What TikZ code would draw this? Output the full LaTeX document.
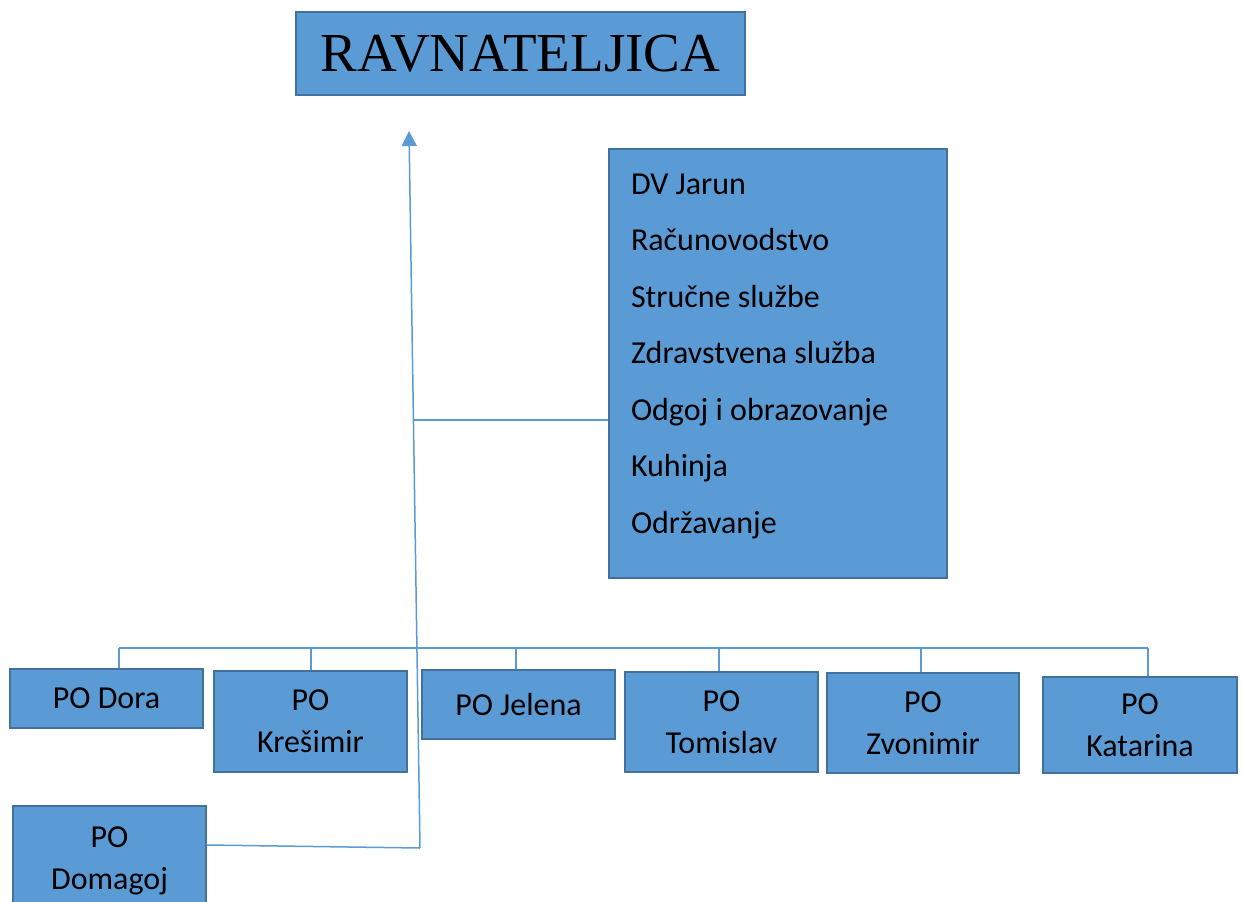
\documentclass[tikz,border=0pt]{standalone}
\usepackage{fontspec}
\setmainfont{Carlito}
\newfontfamily\titlefont{Liberation Serif}
\usetikzlibrary{arrows.meta,positioning}
\definecolor{boxblue}{HTML}{5B9BD5}
\definecolor{boxedge}{HTML}{41719C}

\begin{document}
\begin{tikzpicture}[x=1pt,y=-1pt,
  box/.style={rectangle,draw=boxedge,fill=boxblue,line width=2pt,inner sep=0pt,align=center,font=\fontsize{32}{42}\selectfont},
  link/.style={draw=boxblue,line width=1.5pt}]
\useasboundingbox (0,0) rectangle (1243,902);
\node (head) at (520.5,53.5) [box,minimum width=449pt,minimum height=83pt,font=\titlefont\fontsize{55}{60}\selectfont] {RAVNATELJICA};
\node (jarun) at (608,148) [box,anchor=north west,minimum width=338pt,minimum height=429pt,text width=294pt,align=flush left,font=\fontsize{32}{56.5}\selectfont]
  {DV Jarun\\Računovodstvo\\Stručne službe\\Zdravstvena služba\\Odgoj i obrazovanje\\Kuhinja\\Održavanje\rule[-20pt]{0pt}{1pt}};
\node (dora) at (106.5,698.5) [box,minimum width=193pt,minimum height=59pt] {PO Dora};
\node (kresimir) at (310.5,721.5) [box,minimum width=193pt,minimum height=101pt] {PO\\Krešimir};
\node (jelena) at (518.5,704.5) [box,minimum width=193pt,minimum height=69pt] {PO Jelena};
\node (tomislav) at (721.5,722) [box,minimum width=193pt,minimum height=100pt] {PO\\Tomislav};
\node (zvonimir) at (923,723) [box,minimum width=192pt,minimum height=100pt] {PO\\Zvonimir};
\node (katarina) at (1140,725) [box,minimum width=194pt,minimum height=96pt] {PO\\Katarina};
\node (domagoj) at (109.5,861) [box,minimum width=193pt,minimum height=110pt] {PO\\Domagoj};
\coordinate (bus) at (0,648);
\coordinate (tap) at (414,420);
\coordinate (stemtop) at (409,131);
\coordinate (stembot) at (420,848);
\draw[link,-{Triangle[width=15pt,length=15pt]}] (stembot) -- (stemtop);
\draw[link] (jarun.west |- tap) -- (tap);
\draw[link] ([yshift=16pt]domagoj.east) -- (stembot);
\draw[link] ([xshift=12.5pt]dora.north |- bus) -- ([xshift=8pt]katarina.north |- bus);
\foreach \n/\dx in {dora/12.5,kresimir/0.5,jelena/-2.5,tomislav/-2.5,zvonimir/-2,katarina/8}
  \draw[link] ([xshift=\dx pt]\n.north) -- ([xshift=\dx pt]\n.north |- bus);
\end{tikzpicture}
\end{document}
